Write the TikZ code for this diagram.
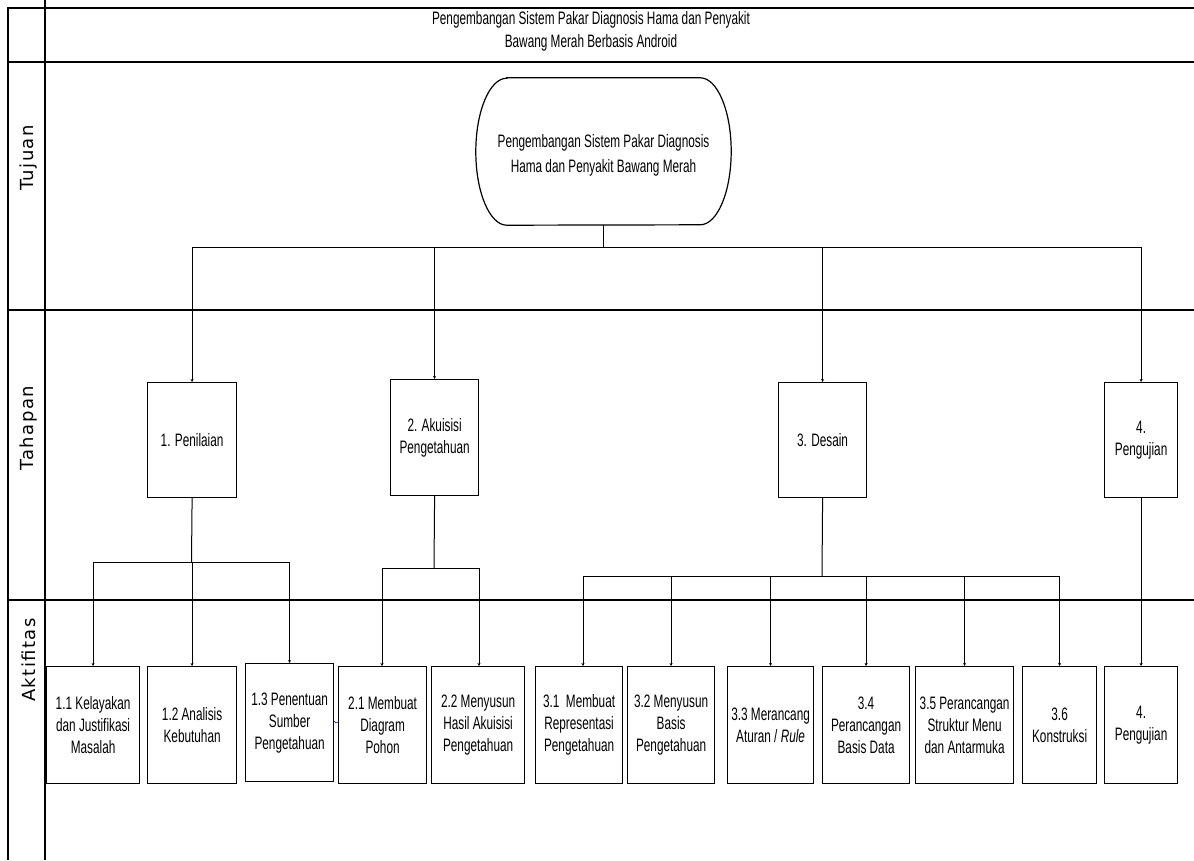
\documentclass[tikz,border=0pt]{standalone}
\usepackage{fontspec}
\setmainfont{Liberation Sans}[FakeStretch=0.655]
\newfontfamily\sidefont{DejaVu Sans}[LetterSpace=8]
\usetikzlibrary{arrows.meta}
\tikzset{
  frame/.style={line width=1.4pt, black},
  conn/.style={line width=1pt, black},
  arr/.style={line width=1pt, black, -{Stealth[length=3pt,width=3pt]}},
  box/.style={draw, line width=1.2pt, inner sep=0pt, anchor=north west, align=center,
              font=\fontsize{18}{22}\selectfont},
  side/.style={rotate=90, font=\sidefont\fontsize{18}{20}\selectfont},
}
\begin{document}
\begin{tikzpicture}[x=1pt,y=-1pt]
\useasboundingbox (0,0) rectangle (1194,860);
% frame lines
\draw[frame] (8,860) -- (8,8) -- (1194,8);
\draw[frame] (45,0) -- (45,860);
\draw[frame] (8,62) -- (1194,62);
\draw[frame] (8,310) -- (1194,310);
\draw[frame] (8,600) -- (1194,600);
% title
\node[align=center, font=\fontsize{18}{23}\selectfont] (title) at (591,31)
  {Pengembangan Sistem Pakar Diagnosis Hama dan Penyakit\\Bawang Merah Berbasis Android};
% side labels
\node[side] (tujuan) at (28.5,158) {Tujuan};
\node[side] (tahapan) at (28.5,428) {Tahapan};
\node[side] (aktifitas) at (28.5,660) {Aktifitas};
% goal
\node[minimum width=255pt, minimum height=147pt, inner sep=0pt] (goal) at (603.5,151.5) {};
\node[align=center, font=\fontsize{18}{25}\selectfont] (goaltext) at (603.5,155)
  {Pengembangan Sistem Pakar Diagnosis\\Hama dan Penyakit Bawang Merah};
\draw[line width=1.2pt] ([xshift=31pt]goal.north west) -- ([xshift=-31pt]goal.north east)
  arc[start angle=90, end angle=-90, x radius=31pt, y radius=73.5pt]
  -- ([xshift=31pt]goal.south west)
  arc[start angle=270, end angle=90, x radius=31pt, y radius=73.5pt] -- cycle;
% stages
\node[box, minimum width=89pt, minimum height=115pt] (t1) at (147,382) {1. Penilaian};
\node[box, minimum width=88pt, minimum height=116pt] (t2) at (390,379) {2. Akuisisi\\Pengetahuan};
\node[box, minimum width=88pt, minimum height=115pt] (t3) at (778,382) {3. Desain};
\node[box, minimum width=73pt, minimum height=115pt] (t4) at (1104,382) {4.\\Pengujian};
% activities
\node[box, minimum width=93pt, minimum height=117pt] (b11) at (46,666) {1.1 Kelayakan\\dan Justifikasi\\Masalah};
\node[box, minimum width=89pt, minimum height=117pt] (b12) at (147,666) {1.2 Analisis\\Kebutuhan};
\node[box, minimum width=88pt, minimum height=118pt] (b13) at (245,663) {1.3 Penentuan\\Sumber\\Pengetahuan};
\node[box, minimum width=88pt, minimum height=117pt] (b21) at (338,666) {2.1 Membuat\\Diagram\\Pohon};
\node[box, minimum width=93pt, minimum height=117pt] (b22) at (431,666) {2.2 Menyusun\\Hasil Akuisisi\\Pengetahuan};
\node[box, minimum width=87pt, minimum height=117pt] (b31) at (535,666) {3.1\ \ Membuat\\Representasi\\Pengetahuan};
\node[box, minimum width=87pt, minimum height=117pt] (b32) at (627,666) {3.2 Menyusun\\Basis\\Pengetahuan};
\node[box, minimum width=86pt, minimum height=117pt] (b33) at (727,666) {3.3 Merancang\\Aturan / \textit{Rule}};
\node[box, minimum width=87pt, minimum height=117pt] (b34) at (822,666) {3.4\\Perancangan\\Basis Data};
\node[box, minimum width=98pt, minimum height=117pt] (b35) at (915,666) {3.5 Perancangan\\Struktur Menu\\dan Antarmuka};
\node[box, minimum width=74pt, minimum height=117pt] (b36) at (1022,666) {3.6\\Konstruksi};
\node[box, minimum width=73pt, minimum height=117pt] (b4) at (1104,666) {4.\\Pengujian};
% goal -> stages
\coordinate (hub) at (603.5,247);
\draw[conn] (goal.south) -- (hub);
\draw[conn] (t1.north |- hub) -- (t4.north |- hub);
\foreach \t in {t1,t2,t3,t4} \draw[arr] (\t.north |- hub) -- (\t.north);
% stage 1
\coordinate (h1) at (191.5,562);
\draw[conn] (t1.south) -- (h1);
\draw[conn] (b11.north |- h1) -- (b13.north |- h1);
\foreach \b in {b11,b12,b13} \draw[arr] (\b.north |- h1) -- (\b.north);
% stage 2
\coordinate (h2) at (434,568);
\draw[conn] (t2.south) -- (h2);
\coordinate (h2a) at (382,568);
\coordinate (h2b) at (479,568);
\draw[conn] (h2a) -- (h2b);
\draw[arr] (h2a) -- (h2a |- b21.north);
\draw[arr] (h2b) -- (h2b |- b22.north);
% stage 3
\coordinate (h3) at (822,576);
\draw[conn] (t3.south) -- (h3);
\coordinate (h3a) at (583,576);
\draw[conn] (h3a) -- (b36.north |- h3);
\draw[arr] (h3a) -- (h3a |- b31.north);
\foreach \b in {b32,b33,b34,b35,b36} \draw[arr] (\b.north |- h3) -- (\b.north);
% stage 4
\draw[arr] (t4.south) -- (b4.north);
% stray blue mark
\draw[blue!70!black, line width=0.6pt] (334,721) -- (336,723) -- (338,722);
\end{tikzpicture}
\end{document}
